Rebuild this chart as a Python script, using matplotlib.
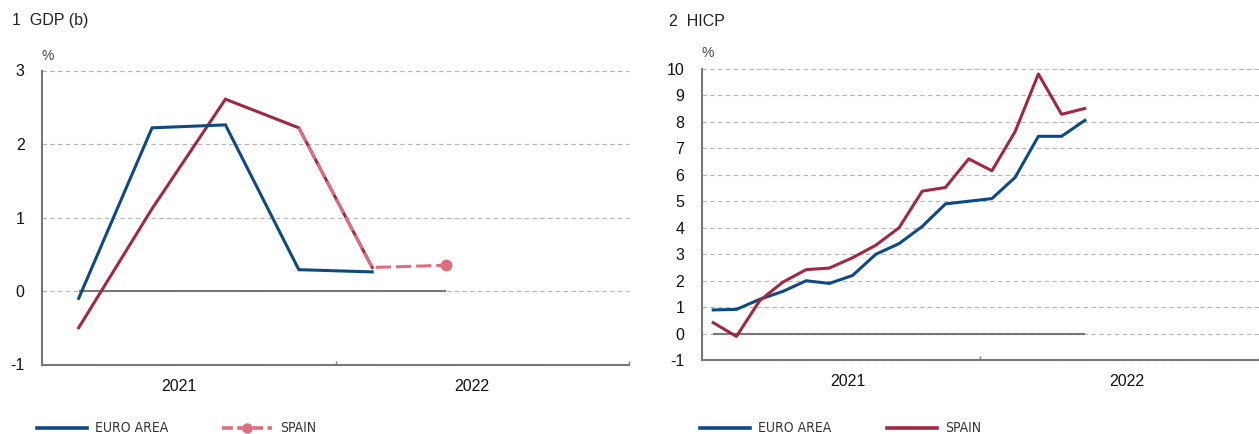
import matplotlib
matplotlib.use('Agg')
import matplotlib.pyplot as plt
from matplotlib import font_manager
from matplotlib.font_manager import FontProperties
from matplotlib.lines import Line2D

# ---------------- data ----------------
quarters = ['Q1 2021', 'Q2 2021', 'Q3 2021', 'Q4 2021', 'Q1 2022', 'Q2 2022']
gdp_euro = [-0.1, 2.22, 2.26, 0.29, 0.26]
gdp_spain = [-0.5, 1.12, 2.61, 2.22, 0.32]
gdp_spain_proj_quarters = ['Q4 2021', 'Q1 2022', 'Q2 2022']
gdp_spain_proj = [2.22, 0.32, 0.35]

months = ['2021-01', '2021-02', '2021-03', '2021-04', '2021-05', '2021-06',
          '2021-07', '2021-08', '2021-09', '2021-10', '2021-11', '2021-12',
          '2022-01', '2022-02', '2022-03', '2022-04', '2022-05']
hicp_euro = [0.9, 0.92, 1.3, 1.6, 2.0, 1.9, 2.2, 3.0, 3.4, 4.05, 4.9, 5.0,
             5.1, 5.9, 7.45, 7.45, 8.05]
hicp_spain = [0.42, -0.1, 1.25, 1.95, 2.42, 2.48, 2.87, 3.34, 4.0, 5.38, 5.52,
              6.6, 6.15, 7.63, 9.8, 8.28, 8.5]

years = ['2021', '2022']
gdp_yticks = [-1, 0, 1, 2, 3]
hicp_yticks = [-1, 0, 1, 2, 3, 4, 5, 6, 7, 8, 9, 10]

# ---------------- style ----------------
plt.rcParams['font.family'] = ['Liberation Sans', 'DejaVu Sans']

fl = font_manager.fontManager.ttflist
if any(f.name == 'Liberation Sans Narrow' for f in fl):
    legend_prop = FontProperties(family='Liberation Sans Narrow', size=10.5)
elif any(f.name == 'DejaVu Sans' and f.stretch == 'condensed' and f.weight in (400, 'normal') and f.style == 'normal' for f in fl):
    legend_prop = FontProperties(family='DejaVu Sans', stretch='condensed', size=10)
else:
    legend_prop = FontProperties(family='Liberation Sans', size=10)

BLUE = '#0d4a85'
RED = '#a12840'
PINK = '#de6e7e'
AXIS = '#777777'
GRID = '#b5b5b5'

W, H = 1259, 434
fig = plt.figure(figsize=(W / 100, H / 100), dpi=100)


def px_axes(x0, x1, ytop, ybot):
    return fig.add_axes([x0 / W, 1 - ybot / H, (x1 - x0) / W, (ybot - ytop) / H])


def style(ax, yticks, xlim, bounds):
    ax.set_xlim(xlim)
    ax.set_ylim(yticks[0], yticks[-1])
    for s in ['top', 'right']:
        ax.spines[s].set_visible(False)
    for s in ['left', 'bottom']:
        ax.spines[s].set_color(AXIS)
        ax.spines[s].set_linewidth(1.5)
    ax.set_yticks(yticks)
    ax.set_yticklabels([str(t) for t in yticks])
    ax.tick_params(axis='y', length=0, pad=12.5, labelsize=11.5, labelcolor='#111111')
    ax.set_xticks(bounds)
    ax.set_xticklabels([])
    ax.tick_params(axis='x', direction='in', length=3, width=1, color=AXIS)
    ax.yaxis.grid(True, color=GRID, lw=0.8, ls=(0, (4, 3)))
    ax.set_axisbelow(True)
    for gl in ax.get_ygridlines():
        gl.set_clip_on(False)


# ---------------- panel 1: GDP ----------------
ax1 = px_axes(42, 629, 70.5, 364.5)
nq = len(quarters)
style(ax1, gdp_yticks, (-0.5, nq + 1.5), [3.5, 7.5])
ax1.hlines(0, 0, nq - 1, color=AXIS, lw=1.5, zorder=1)
xq = list(range(len(gdp_euro)))
ax1.plot(xq, gdp_spain, color=RED, lw=2.2, zorder=3, solid_joinstyle='miter')
ax1.plot(xq, gdp_euro, color=BLUE, lw=2.2, zorder=4, solid_joinstyle='miter')
xp = [quarters.index(q) for q in gdp_spain_proj_quarters]
ax1.plot(xp, gdp_spain_proj, color=PINK, lw=2.2, ls=(0, (5, 1.6)), zorder=5,
         marker='o', markevery=[len(xp) - 1], markersize=7.5)
for i, y in enumerate(years):
    ax1.annotate(y, xy=(i * 4 + 1.5 - 0.14, 0), xycoords=ax1.get_xaxis_transform(),
                 xytext=(0, -15.5), textcoords='offset points', ha='center', va='center',
                 fontsize=11.5, color='#111111')

fig.text(12 / W, 1 - 21 / H, '1  GDP (b)', fontsize=11.5, va='center', color='#222222')
fig.text(42 / W, 1 - 56 / H, '%', fontsize=10, va='center', color='#444444')

# ---------------- panel 2: HICP ----------------
ax2 = px_axes(701.6, 1259, 68.7, 360.3)
nm = len(months)
style(ax2, hicp_yticks, (-0.5, 23.32), [11.5, 23.5])
ax2.hlines(0, 0, nm - 1, color=AXIS, lw=1.5, zorder=1)
xm = list(range(nm))
ax2.plot(xm, hicp_euro, color=BLUE, lw=2.2, zorder=3)
ax2.plot(xm, hicp_spain, color=RED, lw=2.2, zorder=4)
for i, y in enumerate(years):
    ax2.annotate(y, xy=(i * 12 + 5.5 + 0.3, 0), xycoords=ax2.get_xaxis_transform(),
                 xytext=(0, -15.5), textcoords='offset points', ha='center', va='center',
                 fontsize=11.5, color='#111111')

fig.text(669 / W, 1 - 21 / H, '2  HICP', fontsize=11.5, va='center', color='#222222')
fig.text(701 / W, 1 - 53 / H, '%', fontsize=10, va='center', color='#444444')

# ---------------- legends ----------------
h_euro = Line2D([], [], color=BLUE, lw=2.6)
h_spain_proj = Line2D([], [], color=PINK, lw=2.6, ls=(0, (3, 1.2)), marker='o', markersize=6.5)
h_spain = Line2D([], [], color=RED, lw=2.6)


def put_legend(handle, label, x):
    fig.legend([handle], [label], loc='center left', bbox_to_anchor=(x / W, 5.5 / H),
               frameon=False, handlelength=3.6, handletextpad=0.6, borderpad=0,
               borderaxespad=0, numpoints=1, prop=legend_prop, labelcolor='#333333')


put_legend(h_euro, 'EURO AREA', 37)
put_legend(h_spain_proj, 'SPAIN', 222)
put_legend(h_euro, 'EURO AREA', 700)
put_legend(h_spain, 'SPAIN', 887)

fig.savefig('out.png', dpi=100)
